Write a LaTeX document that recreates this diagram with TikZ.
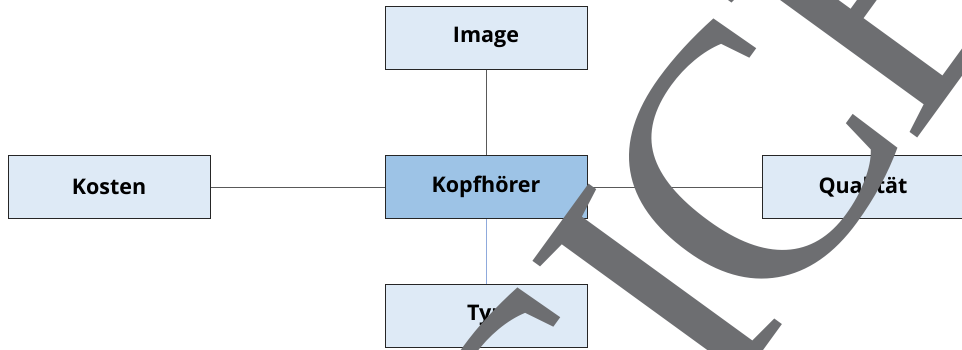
\documentclass[tikz,border=0pt]{standalone}
\usepackage{fontspec}
\newfontfamily\boxfont{Open Sans}
\newfontfamily\wmfont{Liberation Serif}
\definecolor{boxlight}{HTML}{DEEAF6}
\definecolor{boxdark}{HTML}{9DC3E6}
\definecolor{linegrey}{HTML}{595959}
\definecolor{lineblue}{HTML}{8FAADC}
\definecolor{wmgrey}{HTML}{6D6E71}
\tikzset{
  box/.style={draw=black!85, line width=1pt, fill=boxlight, minimum width=202pt, minimum height=63pt, inner sep=0pt,
    font=\boxfont\bfseries\fontsize{21.5}{24}\selectfont},
  hub/.style={box, fill=boxdark},
  link/.style={draw=linegrey, line width=0.8pt},
  bluelink/.style={draw=lineblue, line width=0.8pt},
  wm/.style={text=wmgrey, inner sep=0pt, anchor=base west, rotate=54, font=\wmfont\fontsize{365}{365}\selectfont}
}
\begin{document}
\begin{tikzpicture}[x=1pt,y=-1pt]
\useasboundingbox (0,0) rectangle (962,349);
\clip (0,0) rectangle (962,349);
\fill[white] (0,0) rectangle (962,349);
\node[box] (image) at (486,37.5) {Image};
\node[hub] (kopf) at (486,187) {Kopfhörer};
\node[box] (kosten) at (109,187) {Kosten};
\node[box] (qual) at (863,187) {Qualität};
\node[box] (typ) at (486,315.5) {Typ};
\draw[link] (image) -- (kopf);
\draw[link] (kosten) -- (kopf);
\draw[link] (kopf) -- (qual);
\draw[bluelink] (kopf) -- (typ);
\node[wm] (wmA) at (577,601.6) {C};
\node[wm] (wmB) at (718.3,412.7) {I};
\node[wm] (wmC) at (773.3,332.8) {C};
\node[wm] (wmD) at (911.8,146.6) {E};
\end{tikzpicture}
\end{document}
